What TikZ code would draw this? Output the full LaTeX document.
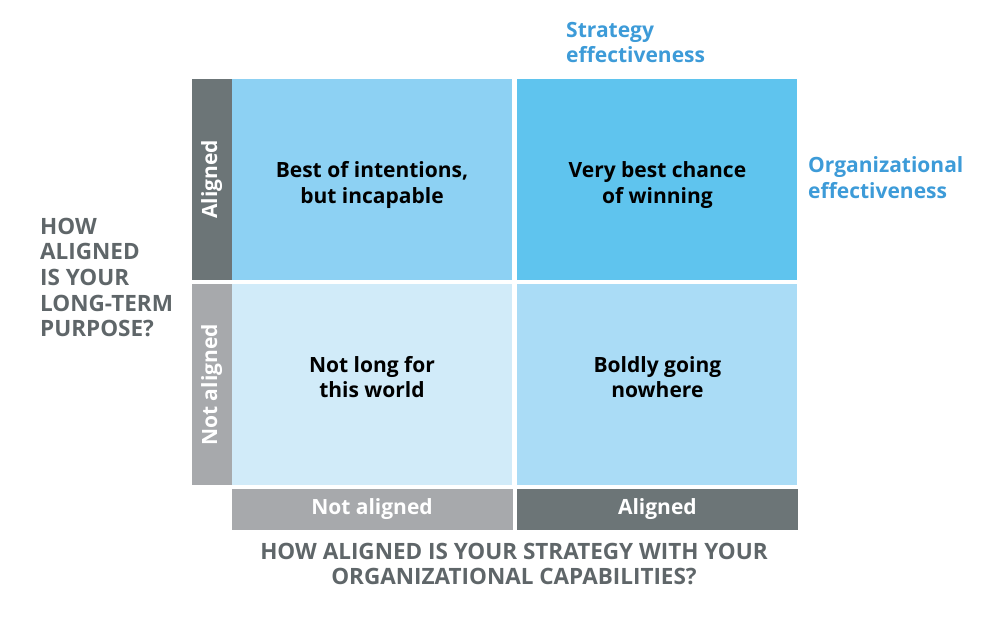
\documentclass[tikz,border=0pt]{standalone}
\usepackage{fontspec}
\setmainfont{Open Sans}[BoldFont={* Bold}]
\usetikzlibrary{positioning}

\definecolor{quadTL}{HTML}{8DD1F3}
\definecolor{quadTR}{HTML}{5FC4EE}
\definecolor{quadBL}{HTML}{D1EBF9}
\definecolor{quadBR}{HTML}{AADCF6}
\definecolor{barDark}{HTML}{6C7577}
\definecolor{barLight}{HTML}{A7A9AC}
\definecolor{axisBlue}{HTML}{3D9BD8}
\definecolor{askGray}{HTML}{5F6669}

\begin{document}
\begin{tikzpicture}[
    x=1pt, y=1pt,
    font=\fontsize{21}{25.5}\selectfont\bfseries,
    quad/.style={rectangle, draw=none, minimum width=280pt, minimum height=201pt,
      inner sep=0pt},
    quadtext/.style={inner sep=0pt, align=center, text=black},
    bar/.style={rectangle, draw=none, inner sep=0pt, text=white, align=center},
    sidebar/.style={bar, minimum width=40pt, minimum height=201pt},
    footbar/.style={bar, minimum width=281pt, minimum height=41pt},
    axislabel/.style={align=left, inner sep=0pt, text=axisBlue},
    question/.style={inner sep=0pt, text=askGray,
      font=\fontsize{22.5}{25.6}\selectfont\bfseries},
  ]
  \useasboundingbox (0,0) rectangle (1000,-616);

  % the four quadrants
  \node[quad, fill=quadTL] (tl) at (372,-179.5) {};
  \node[quad, fill=quadTR, right=5pt of tl] (tr) {};
  \node[quad, fill=quadBL, below=4pt of tl] (bl) {};
  \node[quad, fill=quadBR, below=4pt of tr] (br) {};

  \node[quadtext] (tltext) at ([yshift=-5.5pt]tl.center) {Best of intentions,\\but incapable};
  \node[quadtext] (trtext) at ([yshift=-5.5pt]tr.center) {Very best chance\\of winning};
  \node[quadtext] (bltext) at ([yshift=8pt]bl.center) {Not long for\\this world};
  \node[quadtext] (brtext) at ([yshift=8pt]br.center) {Boldly going\\nowhere};

  % side and foot bars
  \node[sidebar, fill=barDark, left=0pt of tl] (sideA) {\rotatebox{90}{Aligned}};
  \node[sidebar, fill=barLight, left=0pt of bl] (sideN) {\rotatebox{90}{Not aligned}};
  \node[footbar, fill=barLight, below=3pt of bl] (footN) {Not aligned};
  \node[footbar, fill=barDark, below=3pt of br] (footA) {Aligned};

  % axis labels
  \node[axislabel, anchor=west] (strat) at (566,-42.5) {Strategy\\effectiveness};
  \node[axislabel, anchor=west] (org) at (808,-177.5) {Organizational\\effectiveness};

  % questions
  \node[question, align=left, anchor=west] (purpose) at (40,-277.5)
    {HOW\\ALIGNED\\IS YOUR\\LONG-TERM\\PURPOSE?};
  \node[question, align=center] (capab) at (514,-564)
    {HOW ALIGNED IS YOUR STRATEGY WITH YOUR\\ORGANIZATIONAL CAPABILITIES?};
\end{tikzpicture}
\end{document}
